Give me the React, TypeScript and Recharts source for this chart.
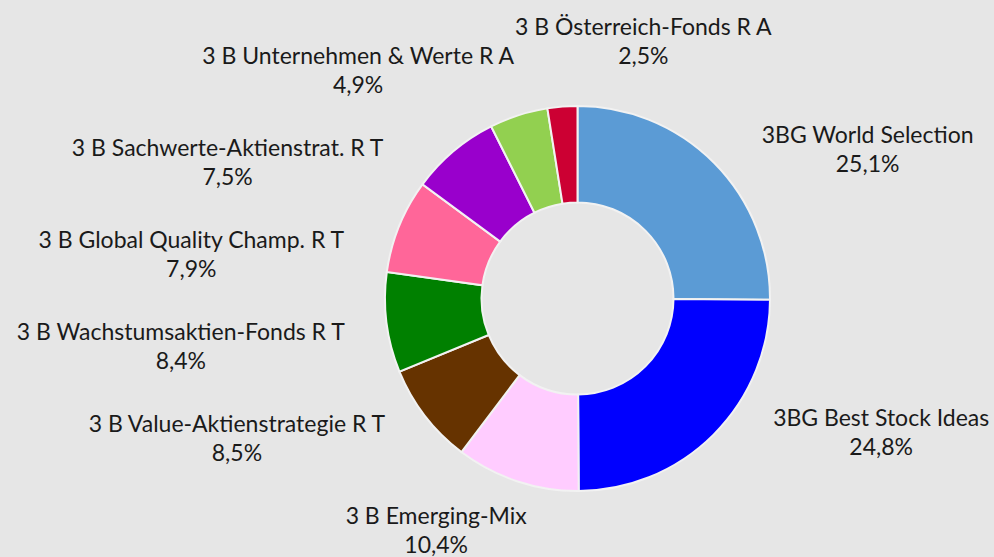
import React from "react"
import { PieChart, Pie, Cell } from "recharts"

const funds = [
  "3BG World Selection",
  "3BG Best Stock Ideas",
  "3 B Emerging-Mix",
  "3 B Value-Aktienstrategie R T",
  "3 B Wachstumsaktien-Fonds R T",
  "3 B Global Quality Champ. R T",
  "3 B Sachwerte-Aktienstrat. R T",
  "3 B Unternehmen & Werte R A",
  "3 B Österreich-Fonds R A",
]
const shares = [25.1, 24.8, 10.4, 8.5, 8.4, 7.9, 7.5, 4.9, 2.5]
const colors = ["#5b9bd5", "#0000ff", "#ffccff", "#663300", "#008000", "#ff6699", "#9900cc", "#92d050", "#cc0033"]

const data = funds.map((name, i) => ({ name, value: shares[i] }))

const W = 994
const H = 557
const FONT = 23
const LINE = 29

let ctx: CanvasRenderingContext2D | null = null
function textWidth(s: string) {
  if (!ctx) ctx = document.createElement("canvas").getContext("2d")
  if (!ctx) return s.length * FONT * 0.5
  ctx.font = `${FONT}px Lato`
  return ctx.measureText(s).width
}

const pct = (v: number) => v.toFixed(1).replace(".", ",") + "%"

type Placed = { x: number; y: number }
let cache: Placed[] | null = null

// spread labels per side so two-line blocks don't collide, then hug a circle around the pie
function layoutLabels(cx: number, cy: number, r: number): Placed[] {
  if (cache) return cache
  const total = shares.reduce((a, b) => a + b, 0)
  let acc = 0
  const items = shares.map((v, i) => {
    const th = ((acc + v / 2) / total) * Math.PI * 2
    acc += v
    const ux = Math.sin(th)
    const uy = -Math.cos(th)
    return { i, ux, uy, y: cy + uy * (r + 8), top: Math.abs(ux) < 0.2 && uy < 0, w: textWidth(funds[i]) }
  })
  const gap = 92
  const yMin = 78
  const yMax = H - 19
  const rd = r + 44.5
  const out: Placed[] = []
  for (const side of [1, -1]) {
    const col = items.filter((d) => !d.top && (side > 0 ? d.ux >= 0 : d.ux < 0)).sort((a, b) => a.y - b.y)
    for (let k = 1; k < col.length; k++) col[k].y = Math.max(col[k].y, col[k - 1].y + gap)
    if (col.length && col[col.length - 1].y > yMax) {
      col[col.length - 1].y = yMax
      for (let k = col.length - 2; k >= 0; k--) col[k].y = Math.min(col[k].y, col[k + 1].y - gap)
    }
    if (col.length && col[0].y < yMin) {
      col[0].y = yMin
      for (let k = 1; k < col.length; k++) col[k].y = Math.max(col[k].y, col[k - 1].y + gap)
    }
    for (const d of col) {
      // measure from the visual middle of the two-line block
      const dy = d.y - 8 - cy
      const ex = Math.sqrt(Math.max(0, rd * rd - dy * dy))
      out[d.i] = { x: side > 0 ? cx + ex + d.w / 2 : cx - ex - d.w / 2, y: d.y }
    }
  }
  for (const d of items.filter((d) => d.top)) {
    out[d.i] = { x: cx + r + 2 - d.w / 2, y: 49 }
  }
  cache = out
  return out
}

const renderLabel = (props: any) => {
  const { cx, cy, outerRadius, index } = props
  const p = layoutLabels(cx, cy, outerRadius)[index]
  return (
    <text x={p.x} y={p.y} textAnchor="middle" fontFamily="Lato" fontSize={FONT} fill="#1a1a1a">
      <tspan x={p.x} y={p.y - LINE / 2}>{funds[index]}</tspan>
      <tspan x={p.x} y={p.y + LINE / 2}>{pct(shares[index])}</tspan>
    </text>
  )
}

export default function App() {
  return (
    <div style={{ position: "absolute", left: 0, top: 0, width: W, height: H, background: "#e6e6e6" }}>
      <PieChart width={W} height={H} margin={{ top: 0, right: 0, bottom: 0, left: 0 }}>
        <Pie
          data={data}
          dataKey="value"
          nameKey="name"
          cx={577.5}
          cy={298.5}
          innerRadius={96}
          outerRadius={192.5}
          startAngle={90}
          endAngle={-270}
          stroke="#f2f2f2"
          strokeWidth={2}
          label={renderLabel}
          labelLine={false}
          isAnimationActive={false}
        >
          {data.map((d, i) => (
            <Cell key={d.name} fill={colors[i]} />
          ))}
        </Pie>
      </PieChart>
    </div>
  )
}
